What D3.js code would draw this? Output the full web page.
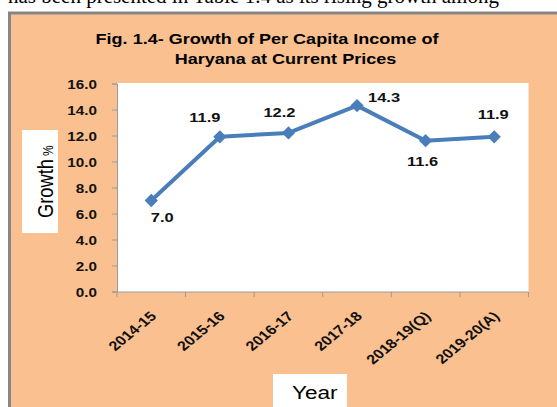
<!DOCTYPE html>
<html>
<head>
<meta charset="utf-8">
<script src="https://cdn.jsdelivr.net/npm/d3@7"></script>
<style>
  body { margin: 0; background: #fff; }
  svg { display: block; font-family: "Liberation Sans", Arial, sans-serif; }
</style>
</head>
<body>
<svg id="chart"></svg>
<script>
// chart data
const years = ["2014-15", "2015-16", "2016-17", "2017-18", "2018-19(Q)", "2019-20(A)"];
const growth = [7.0, 11.9, 12.2, 14.3, 11.6, 11.9];
const yTicks = [0, 2, 4, 6, 8, 10, 12, 14, 16];
const titleLines = ["Fig. 1.4- Growth of Per Capita Income of", "Haryana at Current Prices"];

const width = 557, height = 407;
const SX = 1.22; // the source picture is stretched sideways

const svg = d3.select("#chart")
  .attr("width", width)
  .attr("height", height);

// page text clipped at the top of the picture
svg.append("text")
  .attr("x", 8)
  .attr("y", 3)
  .style("font-family", "'Liberation Serif', serif")
  .style("font-size", "21px")
  .text("has been presented in Table 1.4 as its rising growth among");

// chart frame
svg.append("rect")
  .attr("x", 9.5)
  .attr("y", 13)
  .attr("width", width)
  .attr("height", height)
  .attr("fill", "#FAC090")
  .attr("stroke", "#858585")
  .attr("stroke-width", 3);

const plot = { left: 117, right: 528.5, top: 83, bottom: 292 };

svg.append("rect")
  .attr("x", plot.left)
  .attr("y", plot.top)
  .attr("width", plot.right - plot.left)
  .attr("height", plot.bottom - plot.top)
  .attr("fill", "#fff");

// scales
const x = d3.scaleBand().domain(years).range([plot.left, plot.right]);
const y = d3.scaleLinear().domain([0, 16]).range([291.5, 83.5]);
const cx = d => x(d) + x.bandwidth() / 2;

// helper for stretched text
function stext(g, tx, ty, rot) {
  return g.append("text")
    .attr("transform", `translate(${tx},${ty}) scale(${SX},1)` + (rot ? ` rotate(${rot})` : ""));
}

// title
stext(svg, 267, 44).attr("text-anchor", "middle")
  .style("font-size", "14.8px").style("font-weight", "bold")
  .text(titleLines[0]);
stext(svg, 285.5, 64).attr("text-anchor", "middle")
  .style("font-size", "14.8px").style("font-weight", "bold")
  .text(titleLines[1]);

// y axis
const yAxis = d3.axisLeft(y)
  .tickValues(yTicks)
  .tickFormat(d3.format(".1f"))
  .tickSize(5);

const yg = svg.append("g")
  .attr("transform", `translate(${plot.left},0)`)
  .call(yAxis);
yg.select(".domain").attr("stroke", "#9a9a9a");
yg.selectAll(".tick line").attr("stroke", "#9a9a9a");
yg.selectAll(".tick text")
  .attr("x", -20 / SX)
  .attr("dy", "0.36em")
  .attr("transform", `scale(${SX},1)`)
  .style("font-family", "'Liberation Sans', Arial, sans-serif")
  .style("font-size", "12.5px")
  .style("font-weight", "bold")
  .attr("fill", "#111");

// x axis line with ticks between categories
svg.append("line")
  .attr("x1", plot.left).attr("x2", plot.right)
  .attr("y1", plot.bottom).attr("y2", plot.bottom)
  .attr("stroke", "#9a9a9a");
svg.selectAll(".xtick")
  .data(d3.range(years.length + 1))
  .join("line")
  .attr("class", "xtick")
  .attr("x1", i => plot.left + i * x.step())
  .attr("x2", i => plot.left + i * x.step())
  .attr("y1", plot.bottom)
  .attr("y2", plot.bottom + 5)
  .attr("stroke", "#9a9a9a");

years.forEach(d => {
  stext(svg, cx(d) + 6, 317, -45)
    .attr("text-anchor", "end")
    .style("font-size", "13.3px")
    .style("font-weight", "bold")
    .attr("fill", "#111")
    .text(d);
});

// series
const points = years.map((d, i) => ({ year: d, v: growth[i] }));

svg.append("path")
  .datum(points)
  .attr("fill", "none")
  .attr("stroke", "#4A7EBB")
  .attr("stroke-width", 4)
  .attr("stroke-linejoin", "round")
  .attr("d", d3.line().x(d => cx(d.year)).y(d => y(d.v)));

svg.selectAll(".marker")
  .data(points)
  .join("path")
  .attr("class", "marker")
  .attr("d", d3.symbol(d3.symbolSquare, 88))
  .attr("transform", d => `translate(${cx(d.year)},${y(d.v)}) rotate(45)`)
  .attr("fill", "#4A7EBB");

// data labels, nudged by hand like the original
const labelDx = [11, -15, -9, 27, -3, -1];
const labelDy = [21, -15, -16, -4, 25, -18];
points.forEach((d, i) => {
  stext(svg, cx(d.year) + labelDx[i], y(d.v) + labelDy[i])
    .attr("text-anchor", "middle")
    .style("font-size", "13.5px")
    .style("font-weight", "bold")
    .attr("fill", "#111")
    .text(d3.format(".1f")(d.v));
});

// axis titles
svg.append("rect")
  .attr("x", 22).attr("y", 130)
  .attr("width", 36).attr("height", 103)
  .attr("fill", "#fff");
const gt = stext(svg, 53, 218, -90)
  .style("font-size", "18.3px");
gt.append("tspan").text("Growth");
gt.append("tspan").attr("dx", 3).style("font-size", "12px").text("%");

svg.append("rect")
  .attr("x", 273).attr("y", 374)
  .attr("width", 74).attr("height", 40)
  .attr("fill", "#fff");
stext(svg, 292, 399)
  .style("font-size", "18.5px")
  .text("Year");
</script>
</body>
</html>
